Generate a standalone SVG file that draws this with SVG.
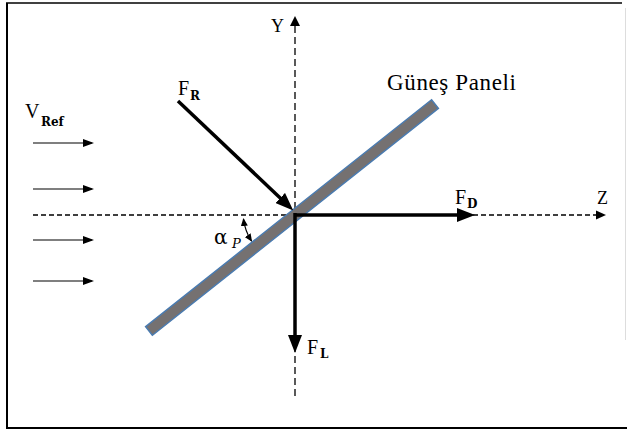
<svg xmlns="http://www.w3.org/2000/svg" width="627" height="430" viewBox="0 0 627 430">
<defs>
<style>
.lbl{font-family:"Liberation Serif","DejaVu Serif",serif;fill:#000}
.sub{font-family:"DejaVu Serif","Liberation Serif",serif;font-weight:bold;fill:#000}
.dash{stroke:#000;stroke-width:1.3;fill:none}
.force{stroke:#000;stroke-width:3.5;fill:none}
.flow{stroke:#000;stroke-width:1.2;fill:none}
</style>
<marker id="big" markerUnits="userSpaceOnUse" markerWidth="18" markerHeight="14" refX="8" refY="7" orient="auto">
<path d="M0,0 L18,7 L0,14 z" fill="#000"/>
</marker>
<marker id="small" markerUnits="userSpaceOnUse" markerWidth="11" markerHeight="8" refX="9" refY="4" orient="auto">
<path d="M0,0 L11,4 L0,8 z" fill="#000"/>
</marker>
<marker id="tiny" markerUnits="userSpaceOnUse" markerWidth="8" markerHeight="7" refX="7" refY="3.5" orient="auto-start-reverse">
<path d="M0,0 L8,3.5 L0,7 z" fill="#000"/>
</marker>
</defs>
<rect width="627" height="430" fill="#fff"/>
<g id="frame">
<line x1="7" y1="3" x2="7" y2="428" stroke="#000" stroke-width="2"/>
<line x1="6" y1="3" x2="622" y2="3" stroke="#000" stroke-width="1.3"/>
<line x1="6" y1="428" x2="627" y2="428" stroke="#000" stroke-width="2"/>
<line x1="625.5" y1="8" x2="625.5" y2="340" stroke="#ddd" stroke-width="1"/>
</g>
<g id="connectors">
<line class="dash" x1="295" y1="26" x2="295" y2="396" stroke-dasharray="7,4"/>
<path d="M295,16 L300,26 L290,26 z" fill="#000"/>
<line class="dash" x1="33" y1="215" x2="598" y2="215" stroke-dasharray="5,3"/>
<path d="M606,215 L596,210.5 L596,219.5 z" fill="#000"/>
<line class="flow" x1="33" y1="143" x2="92" y2="143" marker-end="url(#small)"/>
<line class="flow" x1="33" y1="189" x2="92" y2="189" marker-end="url(#small)"/>
<line class="flow" x1="33" y1="240" x2="92" y2="240" marker-end="url(#small)"/>
<line class="flow" x1="33" y1="281" x2="92" y2="281" marker-end="url(#small)"/>
</g>
<g id="panel">
<polygon points="152.4,335.3 145.6,326.7 431.6,99.7 438.4,108.3" fill="#757171" stroke="#4a7bb0" stroke-width="1.5"/>
</g>
<g id="forces">
<line class="force" x1="178" y1="101" x2="286" y2="203.5" marker-end="url(#big)"/>
<line class="force" x1="295" y1="215" x2="465" y2="215" marker-end="url(#big)"/>
<line class="force" x1="295" y1="213" x2="295" y2="343" marker-end="url(#big)"/>
<path class="flow" d="M243.5,219 A51.5,51.5 0 0 0 251.5,241" marker-start="url(#tiny)" marker-end="url(#tiny)"/>
</g>
<g id="labels">
<text class="lbl" x="271" y="32" font-size="18">Y</text>
<text class="lbl" x="178" y="95" font-size="20">F</text>
<text class="sub" x="190" y="100" font-size="12">R</text>
<text class="lbl" x="25" y="118" font-size="20">V</text>
<text class="sub" x="41" y="126" font-size="12">Ref</text>
<text class="lbl" x="387" y="90" font-size="23" textLength="129">Güneş Paneli</text>
<text class="lbl" x="455" y="204" font-size="20">F</text>
<text class="sub" x="467" y="208" font-size="12">D</text>
<text class="lbl" x="597" y="204" font-size="18">Z</text>
<text class="lbl" x="307" y="354" font-size="20">F</text>
<text class="sub" x="320" y="358" font-size="12">L</text>
<text x="214" y="244" font-size="20" font-family="DejaVu Serif, serif">α</text>
<text x="232" y="248" font-size="13" font-style="italic" font-family="DejaVu Serif, serif">P</text>
</g>
</svg>
